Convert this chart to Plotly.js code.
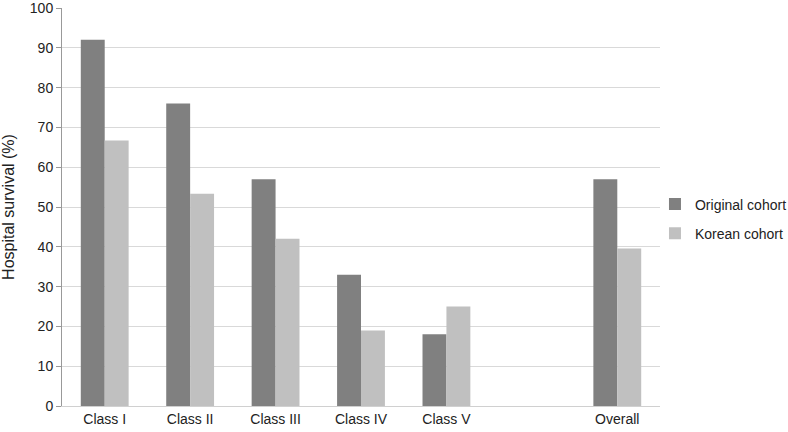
<!DOCTYPE html>
<html>
<head>
<meta charset="utf-8">
<script src="https://cdn.plot.ly/plotly-3.0.1.min.js"></script>
<style>html,body{margin:0;padding:0;background:#fff;}#chart{width:788px;height:432px;}</style>
</head>
<body>
<div id="chart"></div>
<script>
const categories = ["Class I", "Class II", "Class III", "Class IV", "Class V", " ", "Overall"];
const originalCohort = [92, 76, 57, 33, 18, null, 57];
const koreanCohort = [66.7, 53.3, 42, 19, 25, null, 39.6];
const yTicks = [0, 10, 20, 30, 40, 50, 60, 70, 80, 90, 100];

const font = {family: "Liberation Sans, Arial, Helvetica, sans-serif", size: 14, color: "#222"};
const titleFont = {family: "Liberation Sans, Arial, Helvetica, sans-serif", size: 16, color: "#222"};

const traces = [
  {type: "bar", name: "Original cohort", x: categories, y: originalCohort,
   marker: {color: "#808080"}, legendgroup: "a", hoverinfo: "x+y"},
  {type: "bar", name: "Korean cohort", x: categories, y: koreanCohort,
   marker: {color: "#c0c0c0"}, legendgroup: "b", hoverinfo: "x+y"}
];

const layout = {
  width: 788, height: 432,
  margin: {l: 62, r: 128, t: 8, b: 26, autoexpand: false},
  paper_bgcolor: "#fff", plot_bgcolor: "#fff",
  font: font,
  barmode: "group",
  bargap: 0.44, bargroupgap: 0,
  showlegend: true,
  legend: {x: 0.9916, y: 0.47, xanchor: "left", yanchor: "middle",
           bgcolor: "rgba(0,0,0,0)", traceorder: "grouped", tracegroupgap: 8,
           font: font, itemwidth: 30},
  xaxis: {type: "category", categoryorder: "array", categoryarray: categories,
          showgrid: false, showline: true, linecolor: "#d0d0d0", linewidth: 1,
          ticks: "", tickfont: font, fixedrange: true},
  yaxis: {range: [0, 100], tickvals: yTicks, showgrid: true, gridcolor: "#d9d9d9",
          gridwidth: 1, zeroline: false, showline: true, linecolor: "#999", linewidth: 1,
          ticks: "outside", ticklen: 5, tickcolor: "#999", tickfont: font,
          ticklabeloverflow: "allow",
          title: {text: "Hospital survival (%)", font: titleFont, standoff: 12}, fixedrange: true}
};

Plotly.newPlot("chart", traces, layout, {displayModeBar: false, staticPlot: true});
</script>
</body>
</html>
